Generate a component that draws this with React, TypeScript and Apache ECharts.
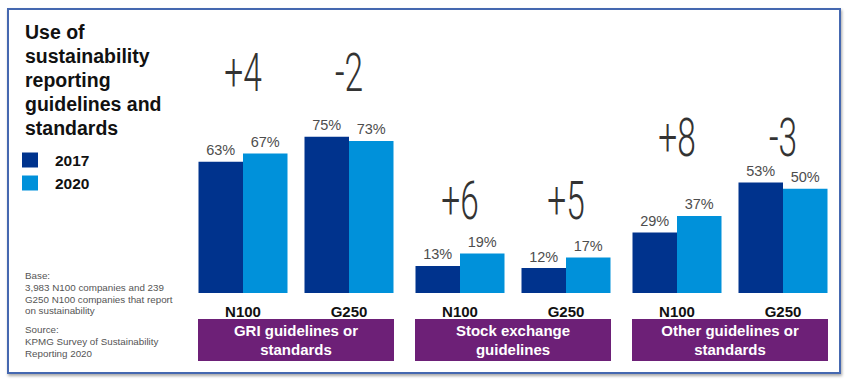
import React, { useEffect, useRef } from "react";
import * as echarts from "echarts";

// ---- data ----
const categories = ["N100", "G250"];
const groupNames = [
  "GRI guidelines or\nstandards",
  "Stock exchange\nguidelines",
  "Other guidelines or\nstandards",
];
const values2017 = [63, 75, 13, 12, 29, 53];
const values2020 = [67, 73, 19, 17, 37, 50];
const seriesNames = ["2017", "2020"];
const titleLines = ["Use of", "sustainability", "reporting", "guidelines and", "standards"];
const baseLines = [
  "Base:",
  "3,983 N100 companies and 239",
  "G250 N100 companies that report",
  "on sustainability",
];
const sourceLines = ["Source:", "KPMG Survey of Sustainability", "Reporting 2020"];

// ---- layout / style ----
const DARK = "#00338d";
const LIGHT = "#0091da";
const PURPLE = "#6d2077";
const gridLefts = [190, 407, 624];
const gridWidth = 212;
const gridTop = 43;
const gridBottom = 92;
const diffCenterY = [72, 200, 137];
const FONT = "'Liberation Sans', Arial, sans-serif";

export default function App() {
  const ref = useRef<HTMLDivElement>(null);

  useEffect(() => {
    if (!ref.current) return;
    const chart = echarts.init(ref.current, null, { renderer: "svg" });

    const grids: any[] = [];
    const xAxes: any[] = [];
    const yAxes: any[] = [];
    const series: any[] = [];
    const graphics: any[] = [];

    graphics.push({
      type: "rect",
      z: 0,
      shape: { x: 8, y: 9, width: 832, height: 364 },
      style: {
        fill: "#ffffff",
        stroke: "#4468b0",
        lineWidth: 2,
        shadowBlur: 3,
        shadowColor: "rgba(0,0,0,0.35)",
        shadowOffsetX: 1,
        shadowOffsetY: 2,
      },
    });

    for (let g = 0; g < 3; g++) {
      grids.push({
        left: gridLefts[g],
        width: gridWidth,
        top: gridTop,
        bottom: gridBottom,
        containLabel: false,
      });
      xAxes.push({
        type: "category",
        gridIndex: g,
        data: categories,
        axisLine: { show: false },
        axisTick: { show: false },
        axisLabel: {
          fontSize: 15,
          fontWeight: "bold",
          fontFamily: FONT,
          color: "#111",
          margin: 11,
        },
      });
      yAxes.push({ type: "value", gridIndex: g, min: 0, max: 120, show: false });

      const idx = [g * 2, g * 2 + 1];
      [values2017, values2020].forEach((vals, s) => {
        series.push({
          type: "bar",
          name: seriesNames[s],
          xAxisIndex: g,
          yAxisIndex: g,
          barWidth: 44.5,
          barGap: "0%",
          itemStyle: { color: s === 0 ? DARK : LIGHT },
          label: {
            show: true,
            position: "top",
            distance: 4,
            formatter: "{c}%",
            fontSize: 14.5,
            fontFamily: FONT,
            color: "#4d4d4d",
          },
          data: idx.map((i) => vals[i]),
        });
      });

      series.push({
        type: "custom",
        name: "diff" + g,
        xAxisIndex: g,
        yAxisIndex: g,
        clip: false,
        data: idx.map((i, k) => [k, values2020[i] - values2017[i]]),
        renderItem: (params: any, api: any) => {
          const x = api.coord([api.value(0), 0])[0];
          const d = api.value(1);
          return {
            type: "text",
            x,
            y: diffCenterY[g],
            scaleX: 0.62,
            style: {
              text: (d > 0 ? "+" : "-") + Math.abs(d),
              x: 0,
              y: 0,
              align: "center",
              verticalAlign: "middle",
              fontSize: 54,
              fontWeight: 300,
              fontFamily: "Roboto, Lato, Inter, sans-serif",
              fill: "#333333",
            },
          };
        },
      });

      graphics.push({
        type: "rect",
        z: 10,
        shape: { x: gridLefts[g] + 8, y: 319, width: 196, height: 42 },
        style: { fill: PURPLE },
      });
      graphics.push({
        type: "text",
        z: 11,
        x: gridLefts[g] + gridWidth / 2,
        y: 340,
        style: {
          text: groupNames[g],
          align: "center",
          verticalAlign: "middle",
          fontSize: 15,
          fontWeight: "bold",
          fontFamily: FONT,
          lineHeight: 19.5,
          fill: "#ffffff",
        },
      });
    }

    chart.setOption({
      animation: false,
      backgroundColor: "#ffffff",
      title: [
        {
          text: titleLines.join("\n"),
          left: 25,
          top: 20,
          padding: 0,
          textStyle: {
            fontSize: 19.5,
            fontWeight: "bold",
            fontFamily: FONT,
            color: "#111",
            lineHeight: 24,
          },
        },
        {
          text: baseLines.join("\n"),
          left: 25,
          top: 270,
          padding: 0,
          textStyle: {
            fontSize: 9.8,
            fontWeight: "normal",
            fontFamily: FONT,
            color: "#555",
            lineHeight: 11.7,
          },
        },
        {
          text: sourceLines.join("\n"),
          left: 25,
          top: 324,
          padding: 0,
          textStyle: {
            fontSize: 9.8,
            fontWeight: "normal",
            fontFamily: FONT,
            color: "#555",
            lineHeight: 11.7,
          },
        },
      ],
      legend: {
        data: seriesNames,
        orient: "vertical",
        left: 22,
        top: 152,
        padding: 0,
        itemWidth: 16,
        itemHeight: 15,
        itemGap: 7,
        icon: "rect",
        selectedMode: false,
        textStyle: {
          fontSize: 15.5,
          fontWeight: "bold",
          fontFamily: FONT,
          color: "#111",
          padding: [0, 0, 0, 12],
        },
      },
      grid: grids,
      xAxis: xAxes,
      yAxis: yAxes,
      series,
      graphic: graphics,
    });

    return () => chart.dispose();
  }, []);

  return (
    <div
      ref={ref}
      style={{ position: "absolute", left: 0, top: 0, width: 848, height: 385 }}
    />
  );
}
